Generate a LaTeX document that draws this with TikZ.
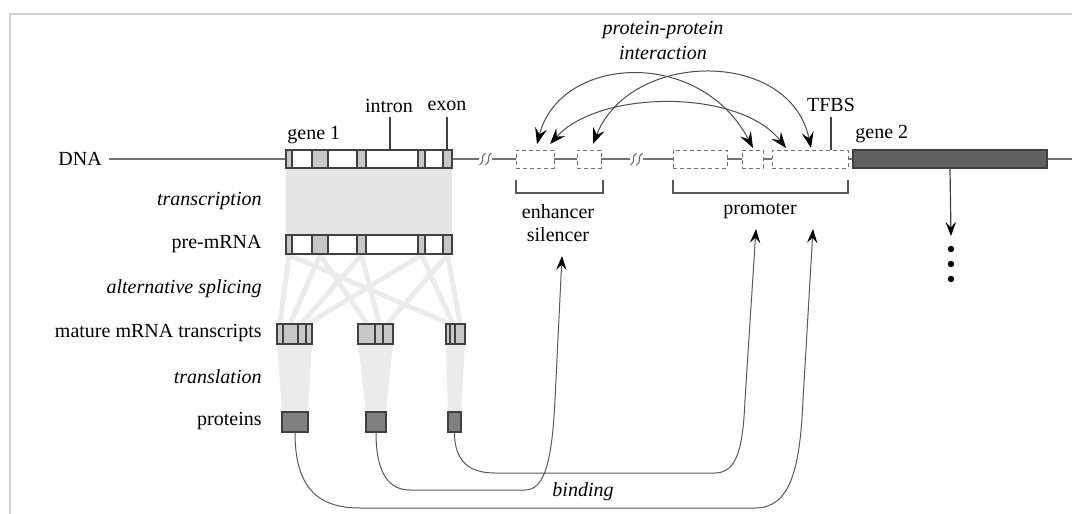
\documentclass[tikz,border=0pt]{standalone}
\usepackage{fontspec}
\setmainfont{Liberation Serif}
\usetikzlibrary{arrows.meta,fit}
\begin{document}
\begin{tikzpicture}[x=0.5pt,y=-0.5pt,
  font=\fontsize{10}{12}\selectfont,
  lbl/.style={inner sep=0pt},
  ilbl/.style={inner sep=0pt, font=\fontsize{10}{12}\selectfont\itshape},
  dna/.style={draw=black!55, line width=0.6pt},
  genebox/.style={fit={#1}, inner sep=0pt, draw=black!75, line width=0.6pt, fill=white},
  exon/.style={draw=black!75, line width=0.6pt, fill=black!22},
  mbox/.style={fit={#1}, inner sep=0pt, draw=black!75, line width=0.6pt, fill=black!22},
  pbox/.style={fit={#1}, inner sep=0pt, draw=black!75, line width=0.6pt, fill=black!50},
  regbox/.style={fit={#1}, inner sep=0pt, draw=black!55, line width=0.5pt, dash pattern=on 2.2pt off 1.3pt, fill=white},
  g2box/.style={fit={#1}, inner sep=0pt, draw=black!75, line width=0.6pt, fill=black!62},
  splice/.style={draw=black!8, line width=2.5pt},
  trans/.style={fill=black!10},
  tick/.style={draw=black!75, line width=0.6pt},
  brack/.style={draw=black!65, line width=0.6pt},
  arc/.style={draw=black!70, line width=0.5pt,
    arrows={Stealth[length=8pt,width=6pt,inset=3pt,color=black]-Stealth[length=8pt,width=6pt,inset=3pt,color=black]}},
  bind/.style={draw=black!65, line width=0.5pt,
    arrows={-Stealth[length=7pt,width=5.2pt,inset=2.6pt,color=black]}},
  brk/.style={draw=black!60, line width=0.5pt}
]
\useasboundingbox (0,0) rectangle (1072,514);
% frame
\draw[black!18, line width=0.6pt] (10,514) -- (10,14) -- (1072,14);

% ---- labels column
\node[lbl, anchor=west] (lDNA) at (58,159) {DNA};
\node[ilbl, anchor=east] (lTr) at (262,201) {transcription};
\node[lbl, anchor=east] (lPre) at (262,244) {pre-mRNA};
\node[ilbl, anchor=east] (lAlt) at (262,289) {alternative splicing};
\node[lbl, anchor=east] (lMat) at (262,333) {mature mRNA transcripts};
\node[ilbl, anchor=east] (lTl) at (262,377) {translation};
\node[lbl, anchor=east] (lProt) at (262,421) {proteins};

% ---- transcription region
\fill[trans] (286,168) rectangle (452,235);

% ---- splicing lines
\foreach \a/\b in {289/280, 289/448, 320/290.5, 320/366.5, 361.5/302, 361.5/379, 421.5/309, 421.5/452.5, 447.5/388, 447.5/460}
  \draw[splice] (\a,255) -- (\b,323);

% ---- translation trapezoids
\fill[black!8] (277,344) -- (312,344) -- (308,412) -- (282,412) -- cycle;
\fill[black!8] (358,344) -- (393,344) -- (386,412) -- (366,412) -- cycle;
\fill[black!8] (446,344) -- (465,344) -- (461,412) -- (448,412) -- cycle;

% ---- DNA line segments
\draw[dna] (109,159) -- (286,159);
\draw[dna] (452,159) -- (479,159);
\draw[dna] (492,159) -- (516,159);
\draw[dna] (554,159) -- (577,159);
\draw[dna] (601,159) -- (630,159);
\draw[dna] (643,159) -- (673,159);
\draw[dna] (727,159) -- (742,159);
\draw[dna] (763,159) -- (772,159);
\draw[dna] (848,159) -- (853,159);
\draw[dna] (1047,159) -- (1072,159);
% break marks
\foreach \x in {482.5,488.5,633.5,639.5}
  \draw[brk] (\x-3,165) .. controls (\x+3,162) and (\x-3,156) .. (\x+3,153);

% ---- gene 1
\node[genebox={(286,150)(452,168)}] (g1) {};
\foreach \a/\b in {286/292,312/328,357/366,418/425,443/452}
  \draw[exon] (\a,150) rectangle (\b,168);
\node[lbl, anchor=west] (lg1) at (287,135) {gene 1};
\node[lbl] (lintron) at (389,106) {intron};
\node[lbl] (lexon) at (447,106) {exon};
\draw[tick] (390,117) -- (390,150);
\draw[tick] (447,117) -- (447,150);

% ---- pre-mRNA
\node[genebox={(286,235)(452,254)}] (pre) {};
\foreach \a/\b in {286/292,312/328,357/366,418/425,443/452}
  \draw[exon] (\a,235) rectangle (\b,254);

% ---- mature mRNAs
\node[mbox={(277,324)(312,344)}] (m1) {};
\foreach \x in {283,298,306} \draw[tick] (\x,324) -- (\x,344);
\node[mbox={(358,324)(393,344)}] (m2) {};
\foreach \x in {375,383} \draw[tick] (\x,324) -- (\x,344);
\node[mbox={(446,324)(465,344)}] (m3) {};
\foreach \x in {450,455} \draw[tick] (\x,324) -- (\x,344);

% ---- proteins
\node[pbox={(282,412)(308,432)}] (p1) {};
\node[pbox={(366,412)(386,432)}] (p2) {};
\node[pbox={(448,412)(461,432)}] (p3) {};

% ---- regulatory elements
\node[regbox={(516,150)(554,168)}] (e1) {};
\node[regbox={(577,150)(601,168)}] (e2) {};
\node[regbox={(673,150)(727,168)}] (r1) {};
\node[regbox={(742,150)(763,168)}] (r2) {};
\node[regbox={(772,150)(848,168)}] (r3) {};

% brackets
\draw[brack] (516,180) -- (516,193) -- (603,193) -- (603,180);
\draw[brack] (673,180) -- (673,193) -- (848,193) -- (848,180);
\node[lbl] (lenh) at (558,212) {enhancer};
\node[lbl] (lsil) at (558,235) {silencer};
\node[lbl] (lprom) at (760,211) {promoter};

% TFBS
\node[lbl] (ltfbs) at (831,105) {TFBS};
\draw[tick] (831,117) -- (831,150);

% ---- gene 2
\node[g2box={(853,150)(1047,168)}] (g2) {};
\node[lbl, anchor=west] (lg2) at (855,134) {gene 2};
\coordinate (g2t) at (951,236);
\draw[bind, draw=black!75, line width=0.6pt] (g2.south) -- (g2t);
\foreach \y in {249,264,279} \fill (951,\y) circle (1.6pt);

% ---- protein-protein interaction
\node[ilbl] (lppi1) at (663,30) {protein-protein};
\node[ilbl] (lppi2) at (663,53) {interaction};
\coordinate (aL) at (537,144); \coordinate (aR) at (753,148);
\coordinate (bL) at (593,144); \coordinate (bR) at (811,148);
\coordinate (cL) at (550,144); \coordinate (cR) at (786,148);
\draw[arc] (aL) .. controls (560,55) and (700,47) .. (aR);
\draw[arc] (bL) .. controls (630,50) and (790,48) .. (bR);
\draw[arc] (cL) .. controls (600,89) and (740,89) .. (cR);

% ---- binding
\coordinate (tE) at (562,256);
\coordinate (tP1) at (756,229);
\coordinate (tP2) at (813,229);
\draw[bind] (p1.south) .. controls (295,490) and (320,508) .. (360,508) -- (755,508)
  .. controls (790,508) and (800,470) .. (803,400) -- (tP2);
\draw[bind] (p2.south) .. controls (376,475) and (390,490) .. (410,490) -- (525,490)
  .. controls (545,490) and (552,460) .. (555,400) -- (tE);
\draw[bind] (p3.south) .. controls (454.5,462) and (470,473) .. (495,473) -- (715,473)
  .. controls (738,473) and (743,445) .. (745,400) -- (tP1);
\node[ilbl] (lbind) at (583,492) {binding};
\end{tikzpicture}
\end{document}
